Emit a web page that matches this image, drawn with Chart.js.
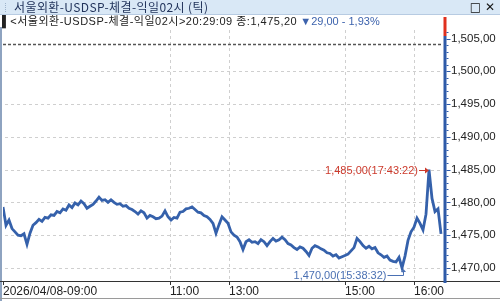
<!DOCTYPE html>
<html><head><meta charset="utf-8">
<script src="https://cdn.jsdelivr.net/npm/chart.js@4/dist/chart.umd.min.js"></script>
<style>
html,body{margin:0;padding:0;background:#fff;width:500px;height:301px;overflow:hidden;}
#wrap{position:relative;width:500px;height:301px;}
#c{position:absolute;left:0;top:0;}
#titlebar{position:absolute;left:0;top:0;width:500px;height:14px;background:#d9e8f6;border-bottom:1px solid #b7cbe2;z-index:2;}
#title{position:absolute;left:14px;top:0px;font:12px "Noto Sans CJK KR","Liberation Sans",sans-serif;line-height:14px;color:#22345c;white-space:nowrap;letter-spacing:0.4px;}
#grip{position:absolute;left:5px;top:3px;width:1px;height:9px;border-left:1px dotted #9fb4cc;}
#icons{position:absolute;right:5px;top:0;font:12px "DejaVu Sans",sans-serif;line-height:14px;color:#111;white-space:nowrap;}
#info{position:absolute;left:2px;top:15px;font:11px "Liberation Sans","Noto Sans CJK KR",sans-serif;line-height:13px;color:#222;white-space:nowrap;z-index:2;}
#info .main{letter-spacing:0.5px;}
#info .chg{color:#3d63ad;}
</style></head>
<body><div id="wrap">
<canvas id="c" width="500" height="301"></canvas>
<div id="titlebar"><div id="grip"></div><div id="title"></div><div id="icons">□ ✕</div></div>
<div id="info"></div>
</div>
<script>
// ---- data ----
const seriesName = '서울외환-USDSP-체결-익일02시';
const quoteTime = '20:29:09';
const lastPrice = 1475.20;
const changeValue = 29.00;
const changePct = 1.93;
const prevClose = 1504.20;
const prices = [
1479.3,1476.5,1477.3,1476.0,1475.5,1475.0,1474.9,1475.2,1473.6,1475.3,
1476.5,1476.9,1477.4,1477.1,1477.7,1477.6,1478.1,1478.0,1478.6,1478.4,
1479.0,1478.8,1479.6,1479.2,1479.9,1479.6,1480.2,1479.8,1479.1,1479.4,
1479.7,1480.2,1480.8,1480.3,1480.4,1480.0,1480.4,1480.0,1479.7,1479.8,
1479.4,1479.5,1479.1,1478.9,1478.6,1478.2,1478.7,1478.4,1477.6,1478.0,
1477.8,1477.5,1477.6,1477.9,1478.7,1477.8,1477.3,1477.7,1477.6,1478.5,
1478.6,1479.0,1479.1,1479.3,1478.9,1478.5,1478.4,1478.0,1477.8,1477.4,
1476.8,1475.3,1476.6,1477.8,1477.3,1476.8,1475.5,1475.0,1474.7,1474.0,
1472.8,1474.0,1474.3,1473.9,1474.0,1473.7,1474.3,1474.0,1473.4,1474.0,
1474.5,1474.1,1474.3,1474.7,1474.3,1473.7,1473.5,1473.1,1472.8,1473.2,
1473.0,1472.5,1471.9,1473.0,1473.4,1473.2,1472.9,1472.7,1472.3,1472.2,
1471.8,1472.0,1471.5,1471.7,1471.9,1472.1,1472.6,1473.1,1474.5,1474.0,
1473.4,1473.0,1473.3,1472.9,1473.1,1472.3,1472.0,1471.6,1471.8,1471.2,
1471.0,1470.9,1471.6,1470.0,1471.8,1474.2,1475.5,1476.2,1477.6,1476.8,
1475.8,1478.2,1485.0,1480.6,1478.6,1479.0,1475.2
];
const timeLabels = ['2026/04/08-09:00','11:00','13:00','15:00','16:00'];
const timeTickIndex = [0, 55.67, 75.33, 114, 137];
const yTickValues = [1470,1475,1480,1485,1490,1495,1500,1505];
const highPoint = {value:1485.00, time:'17:43:22', index:142};
const lowPoint = {value:1470.00, time:'15:38:32', index:133};

function fmt(v){
  const p = v.toFixed(2).split('.');
  return p[0].replace(/\B(?=(\d{3})+(?!\d))/g, ',') + ',' + p[1];
}
document.getElementById('title').textContent = seriesName + ' (틱)';
document.getElementById('info').innerHTML = '<span class="main">▌&lt;' + seriesName + '&gt;' + quoteTime + ' 종:' + fmt(lastPrice) +
  '</span> <span class="chg">▼' + fmt(changeValue) + ' - ' + changePct.toFixed(2).replace('.', ',') + '%</span>';

const LINE = '#3561ab';
const AXIS = '#2e5aa8';
const FONT = '"Liberation Sans","Noto Sans CJK KR",sans-serif';

const overlay = {
  id:'overlay',
  beforeDatasetsDraw(chart){
    const {ctx, chartArea:a, scales:{x,y}} = chart;
    ctx.save();
    // dashed grid
    ctx.strokeStyle = '#cfcfcf'; ctx.lineWidth = 1; ctx.setLineDash([3,3]);
    yTickValues.forEach(v => {
      if (v === 1505) return;
      const py = Math.round(y.getPixelForValue(v)) + 0.5;
      ctx.beginPath(); ctx.moveTo(a.left + 2, py); ctx.lineTo(a.right - 2, py); ctx.stroke();
    });
    timeTickIndex.forEach(v => {
      if (v === 0) return;
      const px = Math.round(x.getPixelForValue(v)) + 0.5;
      ctx.beginPath(); ctx.moveTo(px, a.top); ctx.lineTo(px, a.bottom); ctx.stroke();
    });
    // previous close dashed line
    const py = Math.round(y.getPixelForValue(prevClose)) + 0.5;
    ctx.strokeStyle = '#555'; ctx.lineWidth = 1.5; ctx.setLineDash([3,2]);
    ctx.beginPath(); ctx.moveTo(a.left, py); ctx.lineTo(a.right - 2, py); ctx.stroke();
    ctx.restore();
  },
  afterDraw(chart){
    const {ctx, chartArea:a, scales:{x,y}} = chart;
    ctx.save();
    // left border
    ctx.fillStyle = '#8ea3c0'; ctx.fillRect(0, 27, 2, 274);
    // x axis line
    ctx.strokeStyle = '#333'; ctx.lineWidth = 1;
    ctx.beginPath(); ctx.moveTo(0, a.bottom + 0.5); ctx.lineTo(500, a.bottom + 0.5); ctx.stroke();
    // x tick marks
    timeTickIndex.forEach(v => {
      const px = Math.round(x.getPixelForValue(v)) + 0.5;
      ctx.beginPath(); ctx.moveTo(px, a.bottom); ctx.lineTo(px, a.bottom + 4); ctx.stroke();
    });
    // bottom line
    ctx.strokeStyle = '#9a9a9a';
    ctx.beginPath(); ctx.moveTo(0, 298.5); ctx.lineTo(500, 298.5); ctx.stroke();
    // right axis: red & blue
    ctx.fillStyle = '#e0301e'; ctx.fillRect(a.right - 1.5, 17, 3, a.top + 6 - 17);
    ctx.fillStyle = AXIS; ctx.fillRect(a.right - 1.5, a.top + 6, 3, a.bottom + 2 - a.top - 6);
    // minor/major y ticks
    ctx.strokeStyle = AXIS; ctx.lineWidth = 1;
    for (let v = 1469; v <= 1506; v++) {
      const py = Math.round(y.getPixelForValue(v)) + 0.5;
      const len = (v % 5 === 0) ? 4 : 2;
      ctx.beginPath(); ctx.moveTo(a.right + 1.5, py); ctx.lineTo(a.right + 1.5 + len, py); ctx.stroke();
    }
    // high annotation
    ctx.font = '11px ' + FONT; ctx.textBaseline = 'middle';
    const hx = x.getPixelForValue(highPoint.index), hy = Math.round(y.getPixelForValue(highPoint.value)) + 0.5;
    ctx.fillStyle = '#cc3a2c'; ctx.strokeStyle = '#cc3a2c'; ctx.textAlign = 'right';
    ctx.fillText(fmt(highPoint.value) + '(' + highPoint.time + ')', hx - 11, hy);
    ctx.beginPath(); ctx.moveTo(hx - 10, hy); ctx.lineTo(hx - 1, hy); ctx.stroke();
    ctx.beginPath(); ctx.moveTo(hx, hy); ctx.lineTo(hx - 4, hy - 3); ctx.lineTo(hx - 4, hy + 3); ctx.closePath(); ctx.fill();
    // low annotation
    const lx = Math.round(x.getPixelForValue(lowPoint.index)) + 1.5, ly = Math.round(y.getPixelForValue(lowPoint.value));
    const lty = ly + 7.5;
    ctx.fillStyle = '#4a70b3'; ctx.strokeStyle = '#4a70b3';
    ctx.fillText(fmt(lowPoint.value) + '(' + lowPoint.time + ')', lx - 17, lty);
    ctx.beginPath(); ctx.moveTo(lx - 16, lty); ctx.lineTo(lx, lty); ctx.lineTo(lx, ly + 2); ctx.stroke();
    ctx.beginPath(); ctx.moveTo(lx, ly + 1); ctx.lineTo(lx - 2.5, ly + 4); ctx.lineTo(lx + 2.5, ly + 4); ctx.closePath(); ctx.fill();
    ctx.restore();
  }
};

new Chart(document.getElementById('c'), {
  type:'line',
  data:{ datasets:[{
    data: prices.map((v,i)=>({x:i, y:v})),
    borderColor: LINE, borderWidth: 2.8, pointRadius: 0, tension: 0, fill:false
  }]},
  options:{
    responsive:false, animation:false, devicePixelRatio:1,
    layout:{padding:{top:30,left:3,right:0,bottom:0}},
    plugins:{legend:{display:false}, tooltip:{enabled:false}},
    scales:{
      x:{
        type:'linear', min:0, max:147.33,
        afterFit(s){ s.height = 20; },
        afterBuildTicks(s){ s.ticks = timeTickIndex.map(v=>({value:v})); },
        grid:{ display:false, drawTicks:false },
        border:{ display:false },
        ticks:{ align:'start', padding:3, autoSkip:false, maxRotation:0, color:'#222',
          font:{family:FONT, size:12},
          callback(v){ const k = timeTickIndex.indexOf(v); return k >= 0 ? timeLabels[k] : ''; } }
      },
      y:{
        position:'right', min:1468.0, max:1506.3,
        afterFit(s){ s.width = 55; },
        afterBuildTicks(s){ s.ticks = yTickValues.map(v=>({value:v})); },
        grid:{ display:false, drawTicks:false },
        border:{ display:false },
        ticks:{ padding:6, color:'#222', font:{family:FONT, size:11.5}, callback(v){ return fmt(v); } }
      }
    }
  },
  plugins:[overlay]
});
</script>
</body></html>
